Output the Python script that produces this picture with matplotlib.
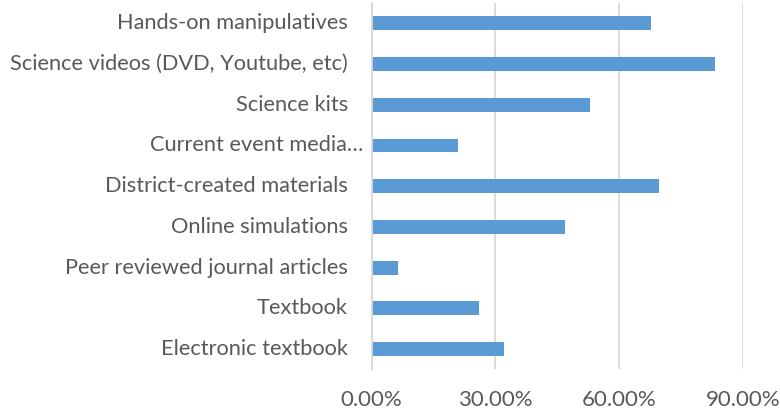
import matplotlib.pyplot as plt
from matplotlib.ticker import FuncFormatter

plt.rcParams['font.family'] = ['Lato', 'DejaVu Sans']

# data (top to bottom as shown)
categories = ['Hands-on manipulatives', 'Science videos (DVD, Youtube, etc)', 'Science kits',
              'Current event media\u2026', 'District-created materials', 'Online simulations',
              'Peer reviewed journal articles', 'Textbook', 'Electronic textbook']
values = [67.7, 83.3, 52.9, 21.0, 69.8, 47.0, 6.3, 26.1, 32.1]
xticks = [0, 30, 60, 90]

text_col = '#595959'
grid_col = '#D9D9D9'
bar_col = '#5B9BD5'

fig = plt.figure(figsize=(7.8, 4.15), dpi=100)
ax = fig.add_axes([0.4765, 0.110, 0.4757, 0.8828])

ypos = list(range(len(categories)))[::-1]
ax.barh(ypos, values, height=0.34, color=bar_col, zorder=3)

ax.set_xlim(0, 90)
ax.set_ylim(-0.5, len(categories) - 0.5)
ax.set_xticks(xticks)
ax.xaxis.set_major_formatter(FuncFormatter(lambda v, p: f'{v:.2f}%'))
ax.grid(axis='x', color=grid_col, linewidth=1.3, zorder=0)

for s in ['top', 'right', 'bottom']:
    ax.spines[s].set_visible(False)
ax.spines['left'].set_color(grid_col)
ax.spines['left'].set_linewidth(1.3)
ax.spines['left'].set_zorder(4)

ax.tick_params(axis='x', length=0, pad=15, labelsize=16, labelcolor=text_col)
ax.tick_params(axis='y', length=0, labelleft=False)
ax.set_yticks(ypos)

# category labels, right-aligned left of the axis (truncated one sits closer)
for y, lab in zip(ypos, categories):
    off = -0.0235 if lab.endswith('\u2026') else -0.064
    ax.text(off, y, lab, transform=ax.get_yaxis_transform(), ha='right', va='center',
            fontsize=15.7, color=text_col)

fig.savefig('out.png', dpi=100)
